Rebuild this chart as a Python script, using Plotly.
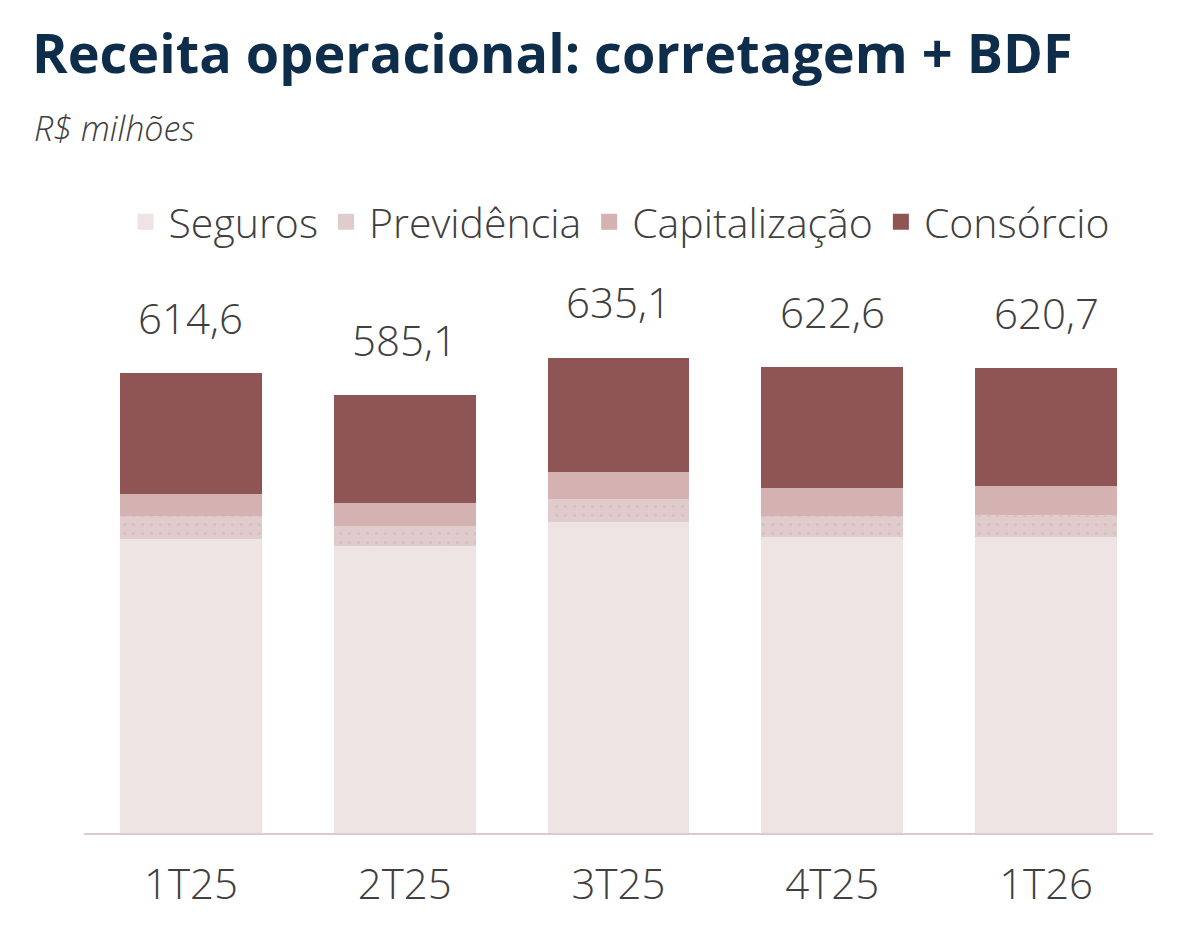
'''
receita operacional: corretagem + BDF, stacked bars by quarter
'''
import plotly.graph_objects as go

quarters = ['1T25', '2T25', '3T25', '4T25', '1T26']
seguros = [392.8, 383.4, 415.5, 395.5, 395.5]
previdencia = [30.7, 26.7, 30.7, 28.1, 29.4]
capitalizacao = [29.4, 30.7, 36.1, 37.4, 38.7]
consorcio = [161.7, 144.3, 152.8, 161.6, 157.1]

series_names = ['Seguros', 'Previdência', 'Capitalização', 'Consórcio']
series_colors = ['#efe4e4', '#e1cccd', '#d3b2b1', '#8f5454']

TEXT_FONT = 'Open Sans'
TEXT_COLOR = '#404040'

figure = go.Figure()
for name, values, color in zip(series_names,
                               [seguros, previdencia, capitalizacao, consorcio],
                               series_colors):
    marker = dict(color=color, line=dict(width=0))
    if name == 'Previdência':
        #faint dotted texture like the original
        marker['pattern'] = dict(shape='.', fgcolor='#d2b3b4', bgcolor=color,
                                 size=9, solidity=0.12)
    figure.add_trace(go.Bar(x=quarters, y=values, name=name, marker=marker,
                            showlegend=False, hoverinfo='skip'))
    #legend entry with a bigger square
    figure.add_trace(go.Scatter(x=[None], y=[None], mode='markers', name=name,
                                marker=dict(symbol='square', size=18, color=color)))

#total labels on top of each bar
totals = [round(a + b + c + d, 1) for a, b, c, d in
          zip(seguros, previdencia, capitalizacao, consorcio)]
for quarter, total in zip(quarters, totals):
    figure.add_annotation(x=quarter, y=total, text=f'{total:.1f}'.replace('.', ','),
                          showarrow=False, yanchor='middle', yshift=56,
                          font=dict(family=TEXT_FONT, size=42, color=TEXT_COLOR, weight=300))

figure.add_annotation(xref='paper', yref='paper', x=0, xshift=-54, y=1.0, yshift=198,
                      xanchor='left', yanchor='middle', showarrow=False,
                      text='<b>Receita operacional: corretagem + BDF</b>',
                      font=dict(family=TEXT_FONT, size=54, color='#0d2d4b'))
figure.add_annotation(xref='paper', yref='paper', x=0, xshift=-52, y=1.0, yshift=122,
                      xanchor='left', yanchor='middle', showarrow=False,
                      text='<i>R$ milhões</i>',
                      font=dict(family=TEXT_FONT, size=34, color=TEXT_COLOR, weight=300))

#page body has an 8px margin, so margins are shifted by that much
figure.update_layout(
    width=1203, height=937,
    margin=dict(l=76, r=58, t=242, b=112),
    paper_bgcolor='white', plot_bgcolor='white',
    barmode='stack', bargap=0.336,
    font=dict(family=TEXT_FONT, color=TEXT_COLOR),
    legend=dict(orientation='h', x=0.5, xanchor='center', y=1.0 + 28 / 583, yanchor='middle',
                traceorder='normal', itemwidth=36,
                font=dict(family=TEXT_FONT, size=41, color=TEXT_COLOR, weight=300)),
    xaxis=dict(showline=True, linecolor='#dccbcb', linewidth=2, ticks='',
               ticklabelstandoff=14,
               tickfont=dict(family=TEXT_FONT, size=42, color=TEXT_COLOR, weight=300),
               showgrid=False, zeroline=False),
    yaxis=dict(range=[0, 779], visible=False, showgrid=False, zeroline=False),
)

figure.write_html('out.html')
